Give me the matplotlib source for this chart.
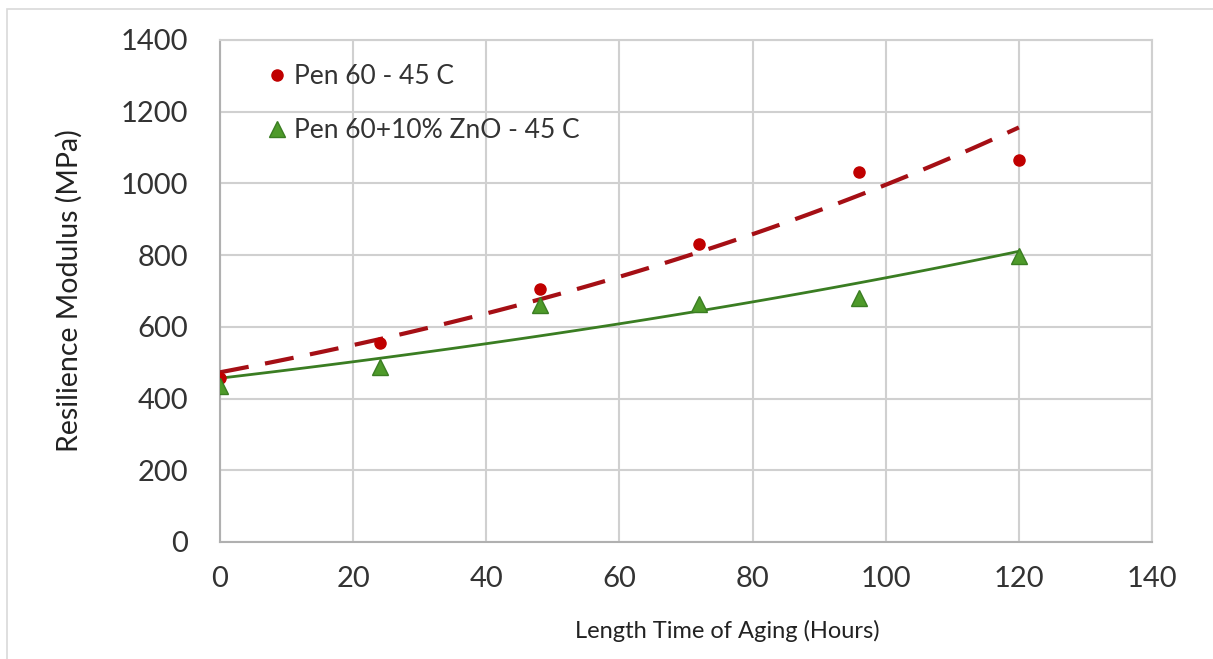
import numpy as np
import matplotlib
matplotlib.use("Agg")
import matplotlib.pyplot as plt
from matplotlib.patches import Rectangle

# aging time (hours) and resilience modulus (MPa)
hours = [0, 24, 48, 72, 96, 120]
pen60 = [457, 556, 706, 830, 1032, 1066]
pen60_zno = [436, 489, 661, 664, 681, 797]

x_ticks = [0, 20, 40, 60, 80, 100, 120, 140]
y_ticks = [0, 200, 400, 600, 800, 1000, 1200, 1400]

plt.rcParams['font.family'] = ['Lato', 'DejaVu Sans']

fig = plt.figure(figsize=(12.13, 6.59), dpi=100)
ax = fig.add_axes([220 / 1213, 1 - 542 / 659, (1152 - 220) / 1213, (542 - 40) / 659])

# light frame of the chart area
fig.patches.append(Rectangle((7 / 1213, -0.01), 1.0, 1.01 - 9 / 659, transform=fig.transFigure,
                             fill=False, edgecolor='#d9d9d9', linewidth=1.2))


def expo_trend(x, y):
    # exponential trendline like excel does: ln(y) = a*x + b
    a, b = np.polyfit(x, np.log(y), 1)
    xs = np.linspace(min(x), max(x), 100)
    return xs, np.exp(b) * np.exp(a * xs)


tx, ty = expo_trend(hours, pen60)
ax.plot(tx, ty, color='#a50f15', linewidth=3, dashes=(7, 4), zorder=3)
tx, ty = expo_trend(hours, pen60_zno)
ax.plot(tx, ty, color='#3a7d22', linewidth=2, zorder=3)

ax.plot(hours, pen60, 'o', color='#c00000', markersize=8, zorder=4,
        label='Pen 60 - 45 C')
ax.plot(hours, pen60_zno, '^', color='#4e9a2a', markeredgecolor='#3a7d22',
        markersize=12, zorder=4, label='Pen 60+10% ZnO - 45 C')

ax.set_xlim(0, 140)
ax.set_ylim(0, 1400)
ax.set_xticks(x_ticks)
ax.set_yticks(y_ticks)
ax.grid(True, color='#d0d0d0', linewidth=1.5)
ax.set_axisbelow(True)
for side in ['top', 'right']:
    ax.spines[side].set_color('#d0d0d0')
    ax.spines[side].set_linewidth(1.5)
for side in ['left', 'bottom']:
    ax.spines[side].set_color('#b0b0b0')
    ax.spines[side].set_linewidth(1.5)
ax.tick_params(length=0, labelsize=21, colors='#333333')
ax.tick_params(axis='y', pad=23)
ax.tick_params(axis='x', pad=17)

ax.set_xlabel('Length Time of Aging (Hours)', fontsize=17, color='#222222')
ax.xaxis.set_label_coords(0.544, -0.155)
ax.set_ylabel('Resilience Modulus (MPa)', fontsize=20.5, color='#222222', labelpad=27)

ax.legend(loc='upper left', bbox_to_anchor=(0.02, 1.0), frameon=False, fontsize=19,
          handletextpad=0.1, handlelength=1.1, labelspacing=1.1, labelcolor='#333333')

fig.savefig('out.png', dpi=100)
